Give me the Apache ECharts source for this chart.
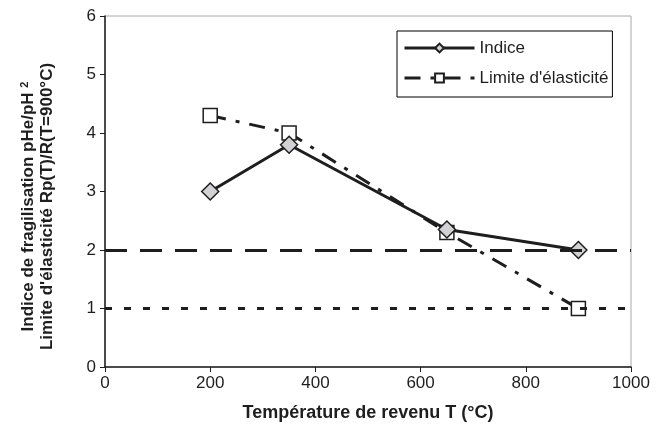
<!DOCTYPE html>
<html>
<head>
<meta charset="utf-8">
<script src="https://cdn.jsdelivr.net/npm/echarts@6/dist/echarts.min.js"></script>
<style>
  html, body { margin: 0; padding: 0; background: #fff; }
  #chart { width: 664px; height: 430px; }
</style>
</head>
<body>
<div id="chart"></div>
<script>
// données
const temperatures = [200, 350, 650, 900]
const indice = [3.0, 3.8, 2.35, 2.0]
const limite = [4.3, 4.0, 2.3, 1.0]
const seuils = [2, 1] // lignes horizontales
const xTicks = [0, 200, 400, 600, 800, 1000]
const yTicks = [0, 1, 2, 3, 4, 5, 6]

const font = 'Liberation Sans, Arial, sans-serif'
const ink = '#1e1e1e'

const chart = echarts.init(document.getElementById('chart'))

const option = {
  animation: false,
  backgroundColor: '#fff',
  grid: {
    left: 105,
    top: 16,
    right: 33,
    bottom: 63,
    show: true,
    borderColor: '#a8a8a8',
    borderWidth: 1
  },
  legend: {
    orient: 'vertical',
    left: 397,
    top: 31,
    padding: [8, 4, 10, 6],
    itemGap: 12,
    itemWidth: 70,
    itemHeight: 11,
    backgroundColor: '#fff',
    borderColor: '#000',
    borderWidth: 1,
    lineStyle: { width: 3 },
    textStyle: { fontFamily: font, fontSize: 17, lineHeight: 18, color: ink },
    data: ['Indice', "Limite d'élasticité"]
  },
  xAxis: {
    type: 'value',
    min: xTicks[0],
    max: xTicks[xTicks.length - 1],
    interval: 200,
    name: 'Température de revenu T (°C)',
    nameLocation: 'middle',
    nameGap: 37,
    nameTextStyle: { fontFamily: font, fontSize: 18, fontWeight: 'bold', color: ink },
    axisLine: { lineStyle: { color: ink, width: 1.5 } },
    axisTick: { show: true, length: 5, lineStyle: { color: ink } },
    axisLabel: { fontFamily: font, fontSize: 17, color: ink, margin: 8, formatter: v => String(v) },
    splitLine: { show: false }
  },
  yAxis: {
    type: 'value',
    min: yTicks[0],
    max: yTicks[yTicks.length - 1],
    interval: 1,
    name: '{a|Indice de fragilisation pHe/pH }{s|2}\n{a|Limite d\'élasticité Rp(T)/R(T=900°C)}',
    nameLocation: 'middle',
    nameGap: 48,
    nameTextStyle: {
      padding: [0, 30, 0, 0],
      rich: {
        a: { fontFamily: font, fontSize: 17, fontWeight: 'bold', color: ink, lineHeight: 19 },
        s: { fontFamily: font, fontSize: 11, fontWeight: 'bold', color: ink, verticalAlign: 'bottom', lineHeight: 19, padding: [0, 0, 8, 0] }
      }
    },
    axisLine: { show: true, lineStyle: { color: ink, width: 1.5 } },
    axisTick: { show: true, length: 5, lineStyle: { color: ink } },
    axisLabel: { fontFamily: font, fontSize: 17, color: ink, margin: 9 },
    splitLine: { show: false }
  },
  series: [
    {
      name: 'seuils',
      type: 'line',
      data: [],
      silent: true,
      markLine: {
        silent: true,
        symbol: 'none',
        label: { show: false },
        data: seuils.map((v, i) => ({
          yAxis: v,
          lineStyle: {
            color: ink,
            width: 3,
            type: i === 0 ? [22, 13] : [7, 12]
          }
        }))
      }
    },
    {
      name: "Limite d'élasticité",
      type: 'line',
      data: temperatures.map((t, i) => [t, limite[i]]),
      symbol: 'rect',
      symbolSize: 14,
      lineStyle: { color: ink, width: 3, type: [16, 10, 4, 10] },
      itemStyle: { color: '#fff', borderColor: ink, borderWidth: 1.5 },
      z: 3
    },
    {
      name: 'Indice',
      type: 'line',
      data: temperatures.map((t, i) => [t, indice[i]]),
      symbol: 'diamond',
      symbolSize: 17,
      lineStyle: { color: ink, width: 3 },
      itemStyle: { color: '#d2d2d4', borderColor: ink, borderWidth: 1.5 },
      z: 4
    }
  ]
}

chart.setOption(option)
</script>
</body>
</html>
